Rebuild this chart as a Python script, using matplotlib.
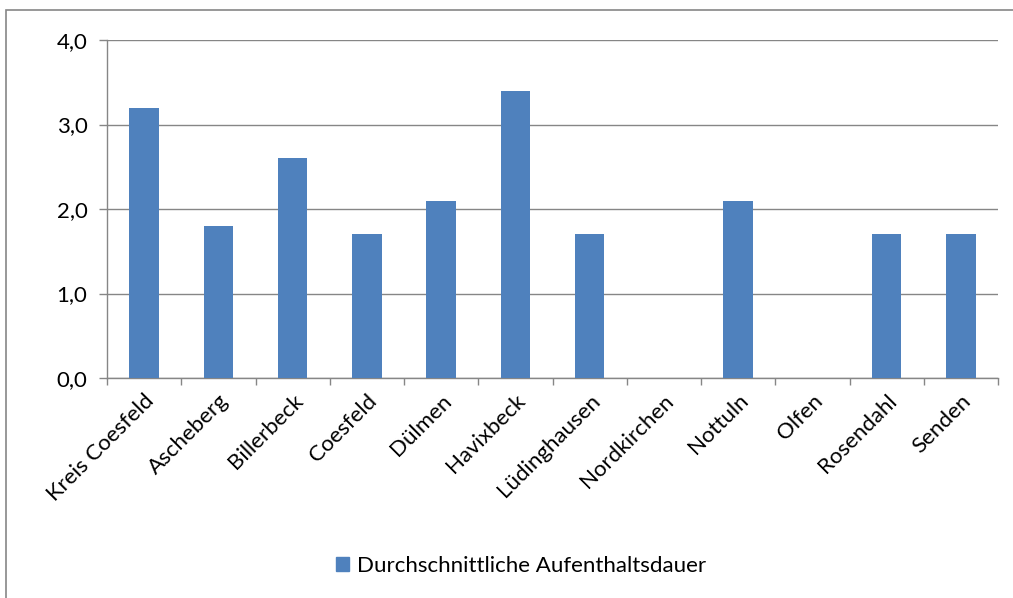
import numpy as np
import matplotlib
matplotlib.use("Agg")
import matplotlib.pyplot as plt
from matplotlib.patches import Rectangle
from matplotlib.ticker import FixedLocator, FuncFormatter

plt.rcParams['font.family'] = ['Lato', 'DejaVu Sans']

categories = ["Kreis Coesfeld", "Ascheberg", "Billerbeck", "Coesfeld", "Dülmen",
              "Havixbeck", "Lüdinghausen", "Nordkirchen", "Nottuln", "Olfen",
              "Rosendahl", "Senden"]
values = [3.2, 1.8, 2.6, 1.7, 2.1, 3.4, 1.7, np.nan, 2.1, np.nan, 1.7, 1.7]
series_name = "Durchschnittliche Aufenthaltsdauer"
y_ticks = [0.0, 1.0, 2.0, 3.0, 4.0]

W, H = 1013, 598
fig = plt.figure(figsize=(W / 100, H / 100), dpi=100)
ax = fig.add_axes([107 / W, 1 - 378 / H, (998 - 107) / W, (378 - 40) / H])

bar_color = "#4F81BD"
grid_color = "#868686"
fs = 16

x = np.arange(len(categories))
ax.bar(x, values, width=0.4, color=bar_color, zorder=3)

ax.set_xlim(-0.5, len(categories) - 0.5)
ax.set_ylim(0, 4.0)
ax.yaxis.set_major_locator(FixedLocator(y_ticks))
ax.yaxis.set_major_formatter(FuncFormatter(lambda v, p: f"{v:.1f}".replace(".", ",")))
ax.grid(axis="y", color=grid_color, linewidth=1.0, zorder=0)

# category labels centred on bars, tick marks on category boundaries
ax.set_xticks(x)
ax.set_xticklabels(categories, rotation=45, ha="right", va="top",
                   rotation_mode="anchor", fontsize=fs)
ax.tick_params(axis="x", length=0, pad=9)
ax.set_xticks(np.arange(len(categories) + 1) - 0.5, minor=True)
ax.tick_params(axis="x", which="minor", length=5, color=grid_color, width=1.0)
ax.tick_params(axis="y", length=6, color=grid_color, width=1.0, labelsize=fs, pad=8)

for side in ("top", "right"):
    ax.spines[side].set_visible(False)
for side in ("left", "bottom"):
    ax.spines[side].set_color(grid_color)
    ax.spines[side].set_linewidth(1.0)

# legend below the plot
handle = Rectangle((0, 0), 1, 1, color=bar_color)
fig.legend([handle], [series_name], loc="center", bbox_to_anchor=(521 / W, 1 - 566 / H),
           frameon=False, fontsize=fs, handlelength=0.6, handleheight=0.6,
           handletextpad=0.35)

# chart area frame
fig.patches.append(Rectangle((6 / W, -0.1), 1.2, 1 - 10 / H + 0.1, transform=fig.transFigure,
                             fill=False, edgecolor=grid_color, linewidth=1.2))

fig.savefig("out.png", dpi=100, facecolor="white")
